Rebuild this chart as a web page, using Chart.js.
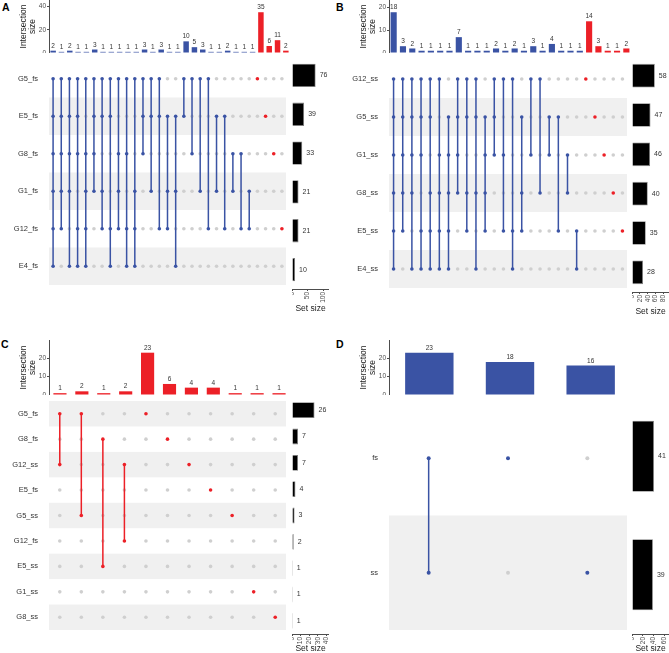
<!DOCTYPE html>
<html>
<head>
<meta charset="utf-8">
<script src="https://cdn.jsdelivr.net/npm/chart.js@4.4.1/dist/chart.umd.min.js"></script>
<style>
  body { margin: 0; background: #fff; width: 669px; height: 653px; position: relative; overflow: hidden; font-family: "Liberation Sans", Arial, sans-serif; }
  canvas { position: absolute; }
  .tag { position: absolute; font-weight: bold; font-size: 10.5px; line-height: 1; color: #000; }
</style>
</head>
<body>
<div class="tag" style="left:2px;top:2px">A</div>
<div class="tag" style="left:336px;top:2px">B</div>
<div class="tag" style="left:1px;top:339px">C</div>
<div class="tag" style="left:336px;top:339px">D</div>

<canvas id="Abar" width="290" height="53" style="left:0;top:0"></canvas>
<canvas id="Amat" width="290" height="233" style="left:0;top:56px"></canvas>
<canvas id="Aset" width="37" height="257" style="left:292px;top:56px"></canvas>

<canvas id="Bbar" width="291" height="53" style="left:340px;top:0"></canvas>
<canvas id="Bmat" width="291" height="236" style="left:340px;top:56px"></canvas>
<canvas id="Bset" width="37" height="260" style="left:632px;top:56px"></canvas>

<canvas id="Cbar" width="290" height="55" style="left:0;top:340px"></canvas>
<canvas id="Cmat" width="290" height="237" style="left:0;top:397px"></canvas>
<canvas id="Cset" width="37" height="256" style="left:292px;top:397px"></canvas>

<canvas id="Dbar" width="291" height="55" style="left:340px;top:340px"></canvas>
<canvas id="Dmat" width="291" height="237" style="left:340px;top:397px"></canvas>
<canvas id="Dset" width="37" height="256" style="left:632px;top:397px"></canvas>

<script>
// Panel A: fs sets
const setsA = ['G5_fs', 'E5_fs', 'G8_fs', 'G1_fs', 'G12_fs', 'E4_fs'];
const setSizeA = [76, 39, 33, 21, 21, 10];
// membership of each intersection, one char per set (row order above)
const combA = ['111111', '111110', '111101', '111011', '101111',
  '111100', '110110', '110011', '101110', '101011', '100111',
  '111000', '110100', '110010', '010110', '010101',
  '110000', '101000', '100100', '100010', '010100', '010010', '001100', '001010', '000110',
  '100000', '010000', '001000', '000010'];
const combSizeA = [2, 1, 2, 1, 1, 3, 1, 1, 1, 1, 1, 3, 1, 3, 1, 1, 10, 5, 3, 1, 1, 2, 1, 1, 1, 35, 6, 11, 2];

// Panel B: ss sets
const setsB = ['G12_ss', 'G5_ss', 'G1_ss', 'G8_ss', 'E5_ss', 'E4_ss'];
const setSizeB = [58, 47, 46, 40, 35, 28];
const combB = ['111111', '111110', '111101', '111011', '110111', '101111', '011111',
  '111100', '110110', '110101', '011110',
  '111000', '101010', '100011', '010110',
  '101000', '100100', '011000', '010010', '001100', '000011',
  '100000', '010000', '001000', '000100', '000010'];
const combSizeB = [18, 3, 2, 1, 1, 1, 1, 7, 1, 1, 1, 2, 1, 2, 1, 3, 1, 4, 1, 1, 1, 14, 3, 1, 1, 2];

// Panel C: mixed sets
const setsC = ['G5_fs', 'G8_fs', 'G12_ss', 'E5_fs', 'G5_ss', 'G12_fs', 'E5_ss', 'G1_ss', 'G8_ss'];
const setSizeC = [26, 7, 7, 4, 3, 2, 1, 1, 1];
const combC = ['101000000', '100010000', '010000100', '001001000',
  '100000000', '010000000', '001000000', '000100000', '000010000', '000000010', '000000001'];
const combSizeC = [1, 2, 1, 2, 23, 6, 4, 4, 1, 1, 1];

// Panel D: fs vs ss
const setsD = ['fs', 'ss'];
const setSizeD = [41, 39];
const combD = ['11', '10', '01'];
const combSizeD = [23, 18, 16];

const FONT = '"Liberation Sans", Arial, sans-serif';
const BLUE = '#3a53a4';
const RED = '#ec2027';
const DOT_OFF = '#cfcfcf';
const BAND = '#f0f0f0';
const AXIS = '#4d4d4d';

function noPad(s) {
  s.paddingTop = 0; s.paddingBottom = 0; s.paddingLeft = 0; s.paddingRight = 0;
}

// numbers on top of / beside bars
const valueLabels = {
  id: 'valueLabels',
  afterDatasetsDraw(chart, args, opts) {
    const ctx = chart.ctx;
    const vals = chart.data.datasets[0].data;
    ctx.save();
    ctx.font = opts.size + 'px ' + FONT;
    ctx.fillStyle = '#333';
    chart.getDatasetMeta(0).data.forEach((el, i) => {
      if (opts.horizontal) {
        ctx.textAlign = 'left'; ctx.textBaseline = 'middle';
        ctx.fillText(vals[i], el.x + 4, el.y);
      } else {
        ctx.textAlign = 'center'; ctx.textBaseline = 'bottom';
        ctx.fillText(vals[i], el.x, el.y - 1.5);
      }
    });
    ctx.restore();
  }
};

// alternating grey row bands behind the dot matrix
const rowBands = {
  id: 'rowBands',
  beforeDatasetsDraw(chart, args, opts) {
    const {ctx, chartArea: a, scales: {y}} = chart;
    ctx.save();
    ctx.fillStyle = BAND;
    for (let i = 0; i < opts.n; i++) {
      if ((opts.n - 1 - i) % 2 !== 0) continue;
      const t = y.getPixelForValue(i - 0.5), b = y.getPixelForValue(i + 0.5);
      ctx.fillRect(a.left, t, a.width, b - t);
    }
    ctx.restore();
  }
};

function drawPanel(id, sets, setSize, combs, combSize, cfg) {
  const n = sets.length, m = combs.length;
  const colors = combs.map(cfg.color);

  // intersection size bars
  new Chart(document.getElementById(id + 'bar'), {
    type: 'bar',
    data: {
      labels: combs,
      datasets: [{ data: combSize, backgroundColor: colors, barPercentage: cfg.barW, categoryPercentage: 1 }]
    },
    options: {
      responsive: false, animation: false,
      layout: { padding: 0 },
      plugins: { legend: { display: false }, tooltip: { enabled: false }, valueLabels: { size: 6.5 } },
      scales: {
        x: { display: false },
        y: {
          min: 0, max: cfg.barMax,
          ticks: { stepSize: cfg.barStep, includeBounds: false, autoSkip: false, padding: 1, color: AXIS, font: { size: 6.5, family: FONT } },
          grid: { drawOnChartArea: false, tickLength: 2, color: AXIS },
          border: { color: AXIS },
          title: { display: true, text: ['Intersection', 'size'], color: '#222', font: { size: 8.5, family: FONT, lineHeight: 1.1 }, padding: { top: 19, bottom: 0 } },
          afterFit: s => { s.width = 49; noPad(s); }
        }
      }
    },
    plugins: [valueLabels]
  });

  // dot matrix
  const on = [], onColors = [], off = [], lines = [];
  combs.forEach((code, j) => {
    const rows = [];
    code.split('').forEach((b, i) => {
      if (b === '1') { rows.push(i); on.push({ x: j, y: i }); onColors.push(colors[j]); }
      else off.push({ x: j, y: i });
    });
    if (rows.length > 1) {
      lines.push({
        data: [{ x: j, y: rows[0] }, { x: j, y: rows[rows.length - 1] }],
        showLine: true, borderColor: colors[j], borderWidth: 1.5, pointRadius: 0, order: 1
      });
    }
  });
  new Chart(document.getElementById(id + 'mat'), {
    type: 'scatter',
    data: {
      datasets: [
        { data: on, pointBackgroundColor: onColors, pointRadius: cfg.dot, pointBorderWidth: 0, order: 0 },
        ...lines,
        { data: off, pointBackgroundColor: DOT_OFF, pointRadius: cfg.dot, pointBorderWidth: 0, order: 2 }
      ]
    },
    options: {
      responsive: false, animation: false,
      layout: { padding: 0 },
      plugins: { legend: { display: false }, tooltip: { enabled: false }, rowBands: { n: n } },
      scales: {
        x: { type: 'linear', display: false, min: -0.5, max: m - 0.5 },
        y: {
          type: 'linear', reverse: true, min: -0.5, max: n - 0.5,
          grid: { display: false }, border: { display: false },
          afterBuildTicks: s => { s.ticks = sets.map((_, i) => ({ value: i })); },
          ticks: { autoSkip: false, padding: 3, color: '#333', font: { size: 7.5, family: FONT }, callback: v => sets[v] },
          afterFit: s => { s.width = 49; noPad(s); }
        }
      }
    },
    plugins: [rowBands]
  });

  // set size bars
  new Chart(document.getElementById(id + 'set'), {
    type: 'bar',
    data: {
      labels: sets,
      datasets: [{ data: setSize, backgroundColor: '#000', borderColor: '#808080', borderWidth: 0.8, barPercentage: 0.6, categoryPercentage: 1 }]
    },
    options: {
      indexAxis: 'y',
      responsive: false, animation: false,
      layout: { padding: 0 },
      plugins: { legend: { display: false }, tooltip: { enabled: false }, valueLabels: { size: 7, horizontal: true } },
      scales: {
        y: { display: false },
        x: {
          min: 0, max: cfg.setMax,
          ticks: { stepSize: cfg.setStep, includeBounds: false, autoSkip: false, minRotation: 90, maxRotation: 90, padding: 1, color: AXIS, font: { size: 6.5, family: FONT } },
          grid: { drawOnChartArea: false, tickLength: 2, color: AXIS },
          border: { color: AXIS },
          title: { display: true, text: 'Set size', color: '#222', font: { size: 8.5, family: FONT, lineHeight: 1.1 }, padding: 0 },
          afterFit: s => { s.height = cfg.axisH; noPad(s); }
        }
      }
    },
    plugins: [valueLabels]
  });
}

const byDegree = code => code.split('1').length - 1 === 1 ? RED : BLUE;

drawPanel('A', setsA, setSizeA, combA, combSizeA,
  { color: byDegree, barW: 0.66, barMax: 45.5, barStep: 20, dot: 1.8, setMax: 119, setStep: 50, axisH: 24 });
drawPanel('B', setsB, setSizeB, combB, combSizeB,
  { color: byDegree, barW: 0.66, barMax: 23.4, barStep: 10, dot: 1.8, setMax: 94, setStep: 20, axisH: 24 });
drawPanel('C', setsC, setSizeC, combC, combSizeC,
  { color: () => RED, barW: 0.6, barMax: 29.9, barStep: 10, dot: 1.8, setMax: 42.7, setStep: 10, axisH: 19 });
drawPanel('D', setsD, setSizeD, combD, combSizeD,
  { color: () => BLUE, barW: 0.6, barMax: 29.9, barStep: 10, dot: 2, setMax: 69, setStep: 20, axisH: 19 });
</script>
</body>
</html>
